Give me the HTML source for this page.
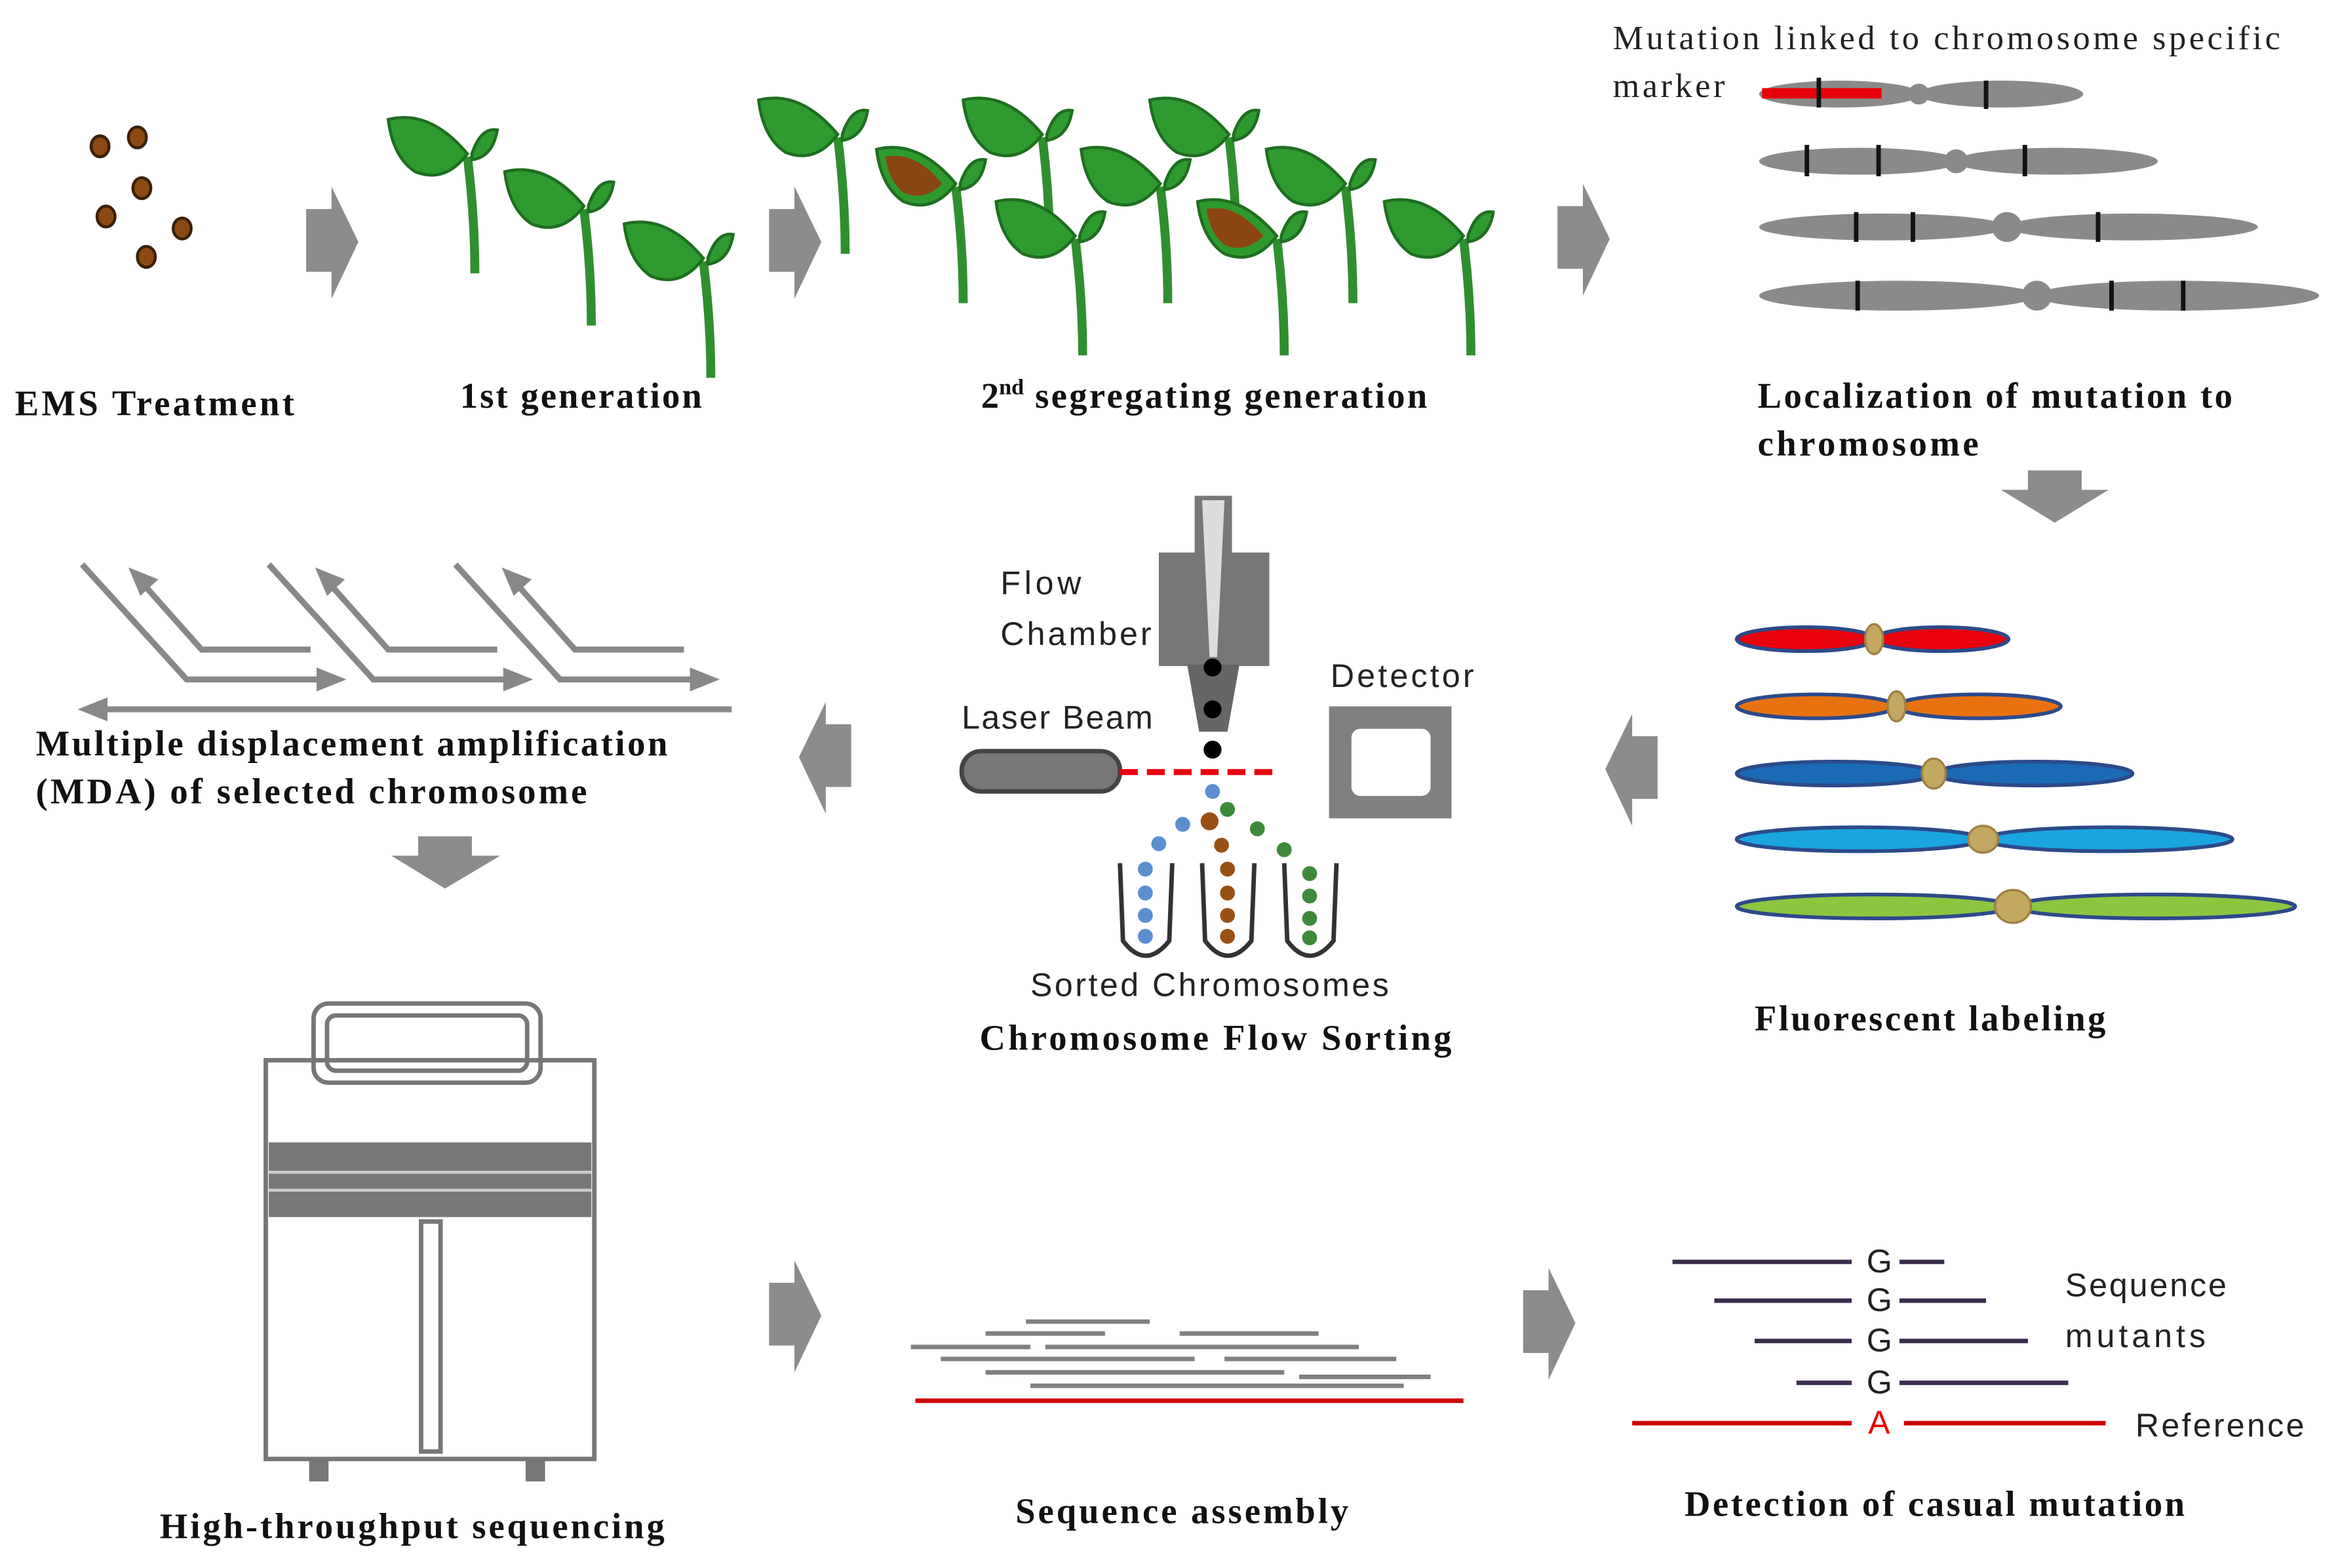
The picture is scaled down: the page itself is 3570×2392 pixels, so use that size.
<!DOCTYPE html>
<html><head><meta charset="utf-8"><style>html,body{margin:0;padding:0;background:#fff}svg{display:block}
.b{font-family:"Liberation Serif",serif;font-weight:bold;font-size:24px;fill:#111}
.s{font-family:"Liberation Sans",sans-serif;font-size:22px;fill:#222}
.r{font-family:"Liberation Serif",serif;font-size:23px;fill:#222}
</style></head><body>
<svg width="3570" height="2392" viewBox="0 0 1567 1050" preserveAspectRatio="none" xmlns="http://www.w3.org/2000/svg">
<defs>
<g id="pl">
<path d="M55 30 Q60 70 60 108" stroke="#2f8f2f" stroke-width="6" fill="none"/>
<path d="M2 5 Q30 -2 55 28 Q40 48 20 40 Q5 30 2 5Z" fill="#2f9a30" stroke="#1f6e20" stroke-width="2"/>
<path d="M58 28 Q64 10 75 12 Q72 30 58 32Z" fill="#2f9a30" stroke="#1f6e20" stroke-width="2"/>
</g>
<g id="plb">
<use href="#pl"/>
<path d="M8 10 Q28 6 46 28 Q34 40 20 34 Q10 26 8 10Z" fill="#8b4513"/>
</g>
<polygon id="ar" points="0,15 17,15 17,0 35,37 17,75 17,57 0,57" fill="#8c8c8c"/>
</defs>
<g fill="#8b4a12" stroke="#3a2008" stroke-width="2">
<ellipse cx="67" cy="98" rx="6" ry="7"/><ellipse cx="92" cy="92" rx="6" ry="7"/><ellipse cx="95" cy="126" rx="6" ry="7"/><ellipse cx="71" cy="145" rx="6" ry="7"/><ellipse cx="122" cy="153" rx="6" ry="7"/><ellipse cx="98" cy="172" rx="6" ry="7"/></g>
<use href="#ar" x="205" y="125"/><use href="#ar" x="515" y="125"/><use href="#ar" x="1043" y="123"/>
<use href="#pl" x="258" y="75"/><use href="#pl" x="336" y="110"/><use href="#pl" x="416" y="145"/>
<use href="#pl" x="506" y="62"/><use href="#plb" x="585" y="95"/><use href="#pl" x="643" y="62"/><use href="#pl" x="665" y="130"/><use href="#pl" x="722" y="95"/><use href="#pl" x="768" y="62"/><use href="#plb" x="800" y="130"/><use href="#pl" x="846" y="95"/><use href="#pl" x="925" y="130"/>
<text class="b" x="10" y="278" textLength="187">EMS Treatment</text>
<text class="b" x="308" y="273" textLength="162">1st generation</text>
<text class="b" x="657" y="273">2<tspan font-size="15" dy="-9">nd</tspan><tspan dy="9" textLength="270"> segregating generation</tspan></text>
<text class="r" x="1080" y="33" textLength="447">Mutation linked to chromosome specific</text>
<text class="r" x="1080" y="65" textLength="75">marker</text>
<g fill="#8a8a8a">
<ellipse cx="1232" cy="63" rx="54" ry="9"/><ellipse cx="1340" cy="63" rx="55" ry="9"/><circle cx="1285" cy="63" r="7"/>
<ellipse cx="1245" cy="108" rx="67" ry="9"/><ellipse cx="1377" cy="108" rx="68" ry="9"/><circle cx="1310" cy="108" r="8"/>
<ellipse cx="1261" cy="152" rx="83" ry="9"/><ellipse cx="1428" cy="152" rx="84" ry="9"/><circle cx="1344" cy="152" r="10"/>
<ellipse cx="1271" cy="198" rx="93" ry="10"/><ellipse cx="1458" cy="198" rx="95" ry="10"/><circle cx="1364" cy="198" r="10"/>
</g>
<rect x="1180" y="59" width="80" height="7" fill="#e8000d"/>
<g stroke="#111" stroke-width="3">
<line x1="1218" y1="52" x2="1218" y2="72"/><line x1="1330" y1="54" x2="1330" y2="73"/>
<line x1="1210" y1="97" x2="1210" y2="118"/><line x1="1258" y1="97" x2="1258" y2="118"/><line x1="1356" y1="97" x2="1356" y2="118"/>
<line x1="1243" y1="142" x2="1243" y2="162"/><line x1="1281" y1="142" x2="1281" y2="162"/><line x1="1405" y1="142" x2="1405" y2="162"/>
<line x1="1244" y1="188" x2="1244" y2="208"/><line x1="1414" y1="188" x2="1414" y2="208"/><line x1="1462" y1="188" x2="1462" y2="208"/>
</g>
<text class="b" x="1177" y="273" textLength="318">Localization  of mutation to</text>
<text class="b" x="1177" y="305" textLength="148">chromosome</text>
<polygon points="1358,315 1394,315 1394,328 1412,328 1376,350 1340,328 1358,328" fill="#8c8c8c"/>
<g stroke="#2c4a8a" stroke-width="2.5">
<ellipse cx="1209" cy="428" rx="46" ry="8" fill="#e8000d"/><ellipse cx="1300" cy="428" rx="45" ry="8" fill="#e8000d"/>
<ellipse cx="1216" cy="473" rx="53" ry="8" fill="#e8720f"/><ellipse cx="1325" cy="473" rx="55" ry="8" fill="#e8720f"/>
<ellipse cx="1229" cy="518" rx="66" ry="8" fill="#1a6ab5"/><ellipse cx="1362" cy="518" rx="66" ry="8" fill="#1a6ab5"/>
<ellipse cx="1245" cy="562" rx="82" ry="8" fill="#1aa5e0"/><ellipse cx="1412" cy="562" rx="83" ry="8" fill="#1aa5e0"/>
<ellipse cx="1255" cy="607" rx="92" ry="8" fill="#8cc63f"/><ellipse cx="1443" cy="607" rx="94" ry="8" fill="#8cc63f"/>
</g>
<g fill="#c2a860" stroke="#a08040" stroke-width="1.5">
<ellipse cx="1255" cy="428" rx="6" ry="10"/><ellipse cx="1270" cy="473" rx="6" ry="10"/><ellipse cx="1295" cy="518" rx="8" ry="10"/><ellipse cx="1328" cy="562" rx="10" ry="9"/><ellipse cx="1348" cy="607" rx="12" ry="11"/></g>
<text class="b" x="1175" y="690" textLength="235">Fluorescent labeling</text>
<g transform="translate(1110,478) scale(-1,1)"><use href="#ar"/></g>
<g transform="translate(570,470) scale(-1,1)"><use href="#ar"/></g>
<rect x="800" y="332" width="25" height="40" fill="#777"/>
<rect x="776" y="370" width="74" height="76" fill="#777"/>
<path d="M795 445 L830 445 L822 490 L803 490Z" fill="#666"/>
<path d="M805 335 L820 335 L815 440 L810 440Z" fill="#ddd"/>
<circle cx="812" cy="447" r="6" fill="#000"/><circle cx="812" cy="475" r="6" fill="#000"/><circle cx="812" cy="502" r="6" fill="#000"/>
<rect x="644" y="503" width="106" height="27" rx="13" fill="#777" stroke="#444" stroke-width="3"/>
<line x1="750" y1="517" x2="858" y2="517" stroke="#e8000d" stroke-width="4" stroke-dasharray="12,6"/>
<rect x="890" y="473" width="82" height="75" fill="#808080"/><rect x="905" y="488" width="53" height="45" rx="6" fill="#fff"/>
<text class="s" x="670" y="398" textLength="54">Flow</text><text class="s" x="670" y="432" textLength="101">Chamber</text>
<text class="s" x="644" y="488" textLength="128">Laser Beam</text><text class="s" x="891" y="460" textLength="96">Detector</text>
<g fill="#5b8fd0"><circle cx="812" cy="530" r="5"/><circle cx="792" cy="552" r="5"/><circle cx="776" cy="565" r="5"/><circle cx="767" cy="582" r="5"/><circle cx="767" cy="598" r="5"/><circle cx="767" cy="613" r="5"/><circle cx="767" cy="627" r="5"/></g>
<g fill="#9a5014"><circle cx="810" cy="550" r="6"/><circle cx="818" cy="566" r="5"/><circle cx="822" cy="582" r="5"/><circle cx="822" cy="598" r="5"/><circle cx="822" cy="613" r="5"/><circle cx="822" cy="627" r="5"/></g>
<g fill="#3f8a3a"><circle cx="822" cy="542" r="5"/><circle cx="842" cy="555" r="5"/><circle cx="860" cy="569" r="5"/><circle cx="877" cy="585" r="5"/><circle cx="877" cy="600" r="5"/><circle cx="877" cy="615" r="5"/><circle cx="877" cy="628" r="5"/></g>
<g fill="none" stroke="#333" stroke-width="3">
<path d="M750 578 L752 630 Q767 650 783 630 L785 578"/><path d="M805 578 L807 630 Q822 650 838 630 L840 578"/><path d="M860 578 L862 630 Q877 650 893 630 L895 578"/></g>
<text class="s" x="690" y="667" textLength="240">Sorted Chromosomes</text>
<text class="b" x="656" y="703" textLength="316">Chromosome Flow  Sorting</text>
<g stroke="#888" stroke-width="4" fill="none">
<line x1="60" y1="475" x2="490" y2="475"/>
<path d="M55 378 L125 455 L222 455"/><path d="M95 390 L135 435 L208 435"/>
<path d="M180 378 L250 455 L347 455"/><path d="M220 390 L260 435 L333 435"/>
<path d="M305 378 L375 455 L472 455"/><path d="M345 390 L385 435 L458 435"/>
</g>
<g fill="#888">
<polygon points="52,475 72,467 72,483"/>
<polygon points="232,455 212,447 212,463"/><polygon points="357,455 337,447 337,463"/><polygon points="482,455 462,447 462,463"/>
<polygon points="86,380 106,388 94,399"/><polygon points="211,380 231,388 219,399"/><polygon points="336,380 356,388 344,399"/>
</g>
<text class="b" x="24" y="506" textLength="423">Multiple displacement amplification</text>
<text class="b" x="24" y="538" textLength="369">(MDA) of selected chromosome</text>
<polygon points="280,560 316,560 316,573 335,573 298,595 262,573 280,573" fill="#8c8c8c"/>
<g fill="none" stroke="#777" stroke-width="3">
<rect x="178" y="710" width="220" height="267"/>
<rect x="210" y="672" width="152" height="53" rx="10"/><rect x="219" y="680" width="134" height="37" rx="6"/>
<rect x="282" y="818" width="13" height="154"/>
</g>
<rect x="180" y="765" width="216" height="50" fill="#777"/>
<line x1="180" y1="785" x2="396" y2="785" stroke="#ccc" stroke-width="2"/><line x1="180" y1="797" x2="396" y2="797" stroke="#ccc" stroke-width="2"/>
<rect x="207" y="977" width="13" height="15" fill="#777"/><rect x="352" y="977" width="13" height="15" fill="#777"/>
<text class="b" x="107" y="1030" textLength="338">High-throughput sequencing</text>
<use href="#ar" x="515" y="844"/><use href="#ar" x="1020" y="849"/>
<g stroke="#808080" stroke-width="3">
<line x1="687" y1="885" x2="770" y2="885"/><line x1="610" y1="902" x2="690" y2="902"/><line x1="660" y1="893" x2="740" y2="893"/>
<line x1="790" y1="893" x2="883" y2="893"/><line x1="700" y1="902" x2="910" y2="902"/><line x1="630" y1="910" x2="800" y2="910"/>
<line x1="820" y1="910" x2="935" y2="910"/><line x1="660" y1="919" x2="860" y2="919"/><line x1="870" y1="922" x2="958" y2="922"/>
<line x1="690" y1="928" x2="940" y2="928"/></g>
<line x1="613" y1="938" x2="980" y2="938" stroke="#c00" stroke-width="3"/>
<text class="b" x="680" y="1020" textLength="223">Sequence assembly</text>
<g stroke="#3a2d4e" stroke-width="3">
<line x1="1120" y1="845" x2="1240" y2="845"/><line x1="1272" y1="845" x2="1302" y2="845"/>
<line x1="1148" y1="871" x2="1240" y2="871"/><line x1="1272" y1="871" x2="1330" y2="871"/>
<line x1="1175" y1="898" x2="1240" y2="898"/><line x1="1272" y1="898" x2="1358" y2="898"/>
<line x1="1203" y1="926" x2="1240" y2="926"/><line x1="1272" y1="926" x2="1385" y2="926"/></g>
<g stroke="#c00" stroke-width="3"><line x1="1093" y1="953" x2="1240" y2="953"/><line x1="1275" y1="953" x2="1410" y2="953"/></g>
<g class="s" font-size="18"><text x="1250" y="852">G</text><text x="1250" y="878">G</text><text x="1250" y="905">G</text><text x="1250" y="933">G</text><text x="1251" y="960" fill="#e00">A</text></g>
<text class="s" x="1383" y="868" textLength="108">Sequence</text><text class="s" x="1383" y="902" textLength="94">mutants</text><text class="s" x="1430" y="962" textLength="113">Reference</text>
<text class="b" x="1128" y="1015" textLength="335">Detection  of casual mutation</text>
</svg>
</body></html>
